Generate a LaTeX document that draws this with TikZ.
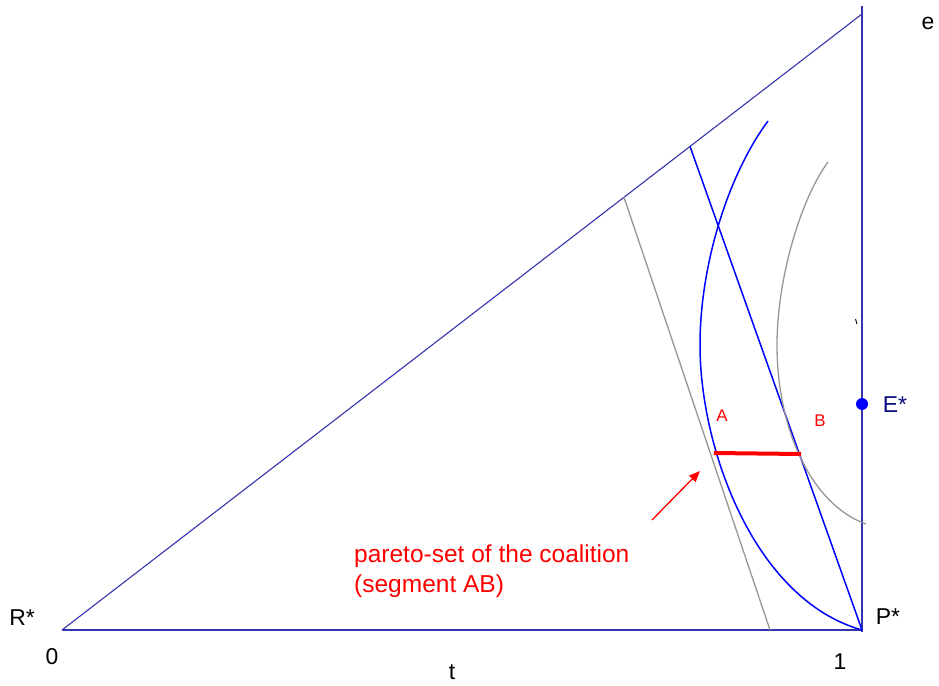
\documentclass[tikz,border=0pt]{standalone}
\usepackage{fontspec}
\setmainfont{Liberation Sans}
\usetikzlibrary{arrows.meta}
\definecolor{axisblue}{RGB}{52,52,172}
\definecolor{navytext}{RGB}{10,10,120}
\definecolor{curvegray}{RGB}{150,150,150}
\tikzset{
  axisline/.style={draw=axisblue, line width=1.1bp},
  blueline/.style={draw=blue, line width=1.5bp},
  grayline/.style={draw=curvegray, line width=1.3bp},
  lbl/.style={inner sep=0pt, font=\fontsize{23}{27}\selectfont},
  redlbl/.style={inner sep=0pt, text=red, font=\fontsize{17}{20}\selectfont},
}
\begin{document}
\begin{tikzpicture}[x=1bp, y=-1bp]
\useasboundingbox (0,0) rectangle (939,686);
% corner coordinates
\coordinate (R) at (62,630);
\coordinate (P) at (862,630);
\coordinate (Pb) at (862,632);
\coordinate (Top) at (862,14);
\coordinate (Vtop) at (862,6);
\coordinate (D1) at (690,146.4);
\coordinate (D2) at (624,197.3);
\coordinate (G2) at (770,630);
\coordinate (A) at (714,453);
\coordinate (B) at (801,454);
\coordinate (Atail) at (652,520);
\coordinate (Ahead) at (700,471);
\coordinate (BC1) at (768,121);
\coordinate (BCm) at (700,345);
\coordinate (GC1) at (828,162);
\coordinate (GCm) at (777,345);
\coordinate (GC2) at (866,524);
% triangle
\draw[axisline] (R) -- (P);
\draw[axisline] (R) -- (Top);
\draw[axisline] (Vtop) -- (Pb);
% straight lines
\draw[blueline] (D1) -- (P);
\draw[grayline] (D2) -- (G2);
% blue curve
\draw[blueline] (BC1) .. controls (728,175) and (700,265) .. (BCm)
  .. controls (700,450) and (755,600) .. (P);
% gray curve
\draw[grayline] (GC1) .. controls (800,200) and (777,280) .. (GCm)
  .. controls (777,430) and (812,505) .. (GC2);
% pareto segment
\draw[red, line width=4bp] (A) -- (B);
% arrow
\draw[red, line width=1.3bp, -{Triangle[length=11bp,width=9bp]}] (Atail) -- (Ahead);
% small tick
\draw[black, line width=0.9bp] (855.5,319) -- (857,324);
% E* point
\node[circle, fill=blue, inner sep=0pt, minimum size=12bp] (E) at (862,404) {};
% labels
\node[lbl, text=navytext] (Elbl) at (895,405) {E*};
\node[lbl] (elbl) at (928,23) {e};
\node[lbl] (Rlbl) at (22,618) {R*};
\node[lbl] (Plbl) at (888,617) {P*};
\node[lbl] (zero) at (52,657) {0};
\node[lbl] (one) at (840,662) {1};
\node[lbl] (tlbl) at (452,672) {t};
\node[redlbl] (Albl) at (722,416) {A};
\node[redlbl] (Blbl) at (820,421) {B};
\node[inner sep=0pt, text=red, align=left, anchor=west, font=\fontsize{24.6}{29.5}\selectfont] (pareto) at (354,571) {pareto-set of the coalition\\(segment AB)};
\end{tikzpicture}
\end{document}
